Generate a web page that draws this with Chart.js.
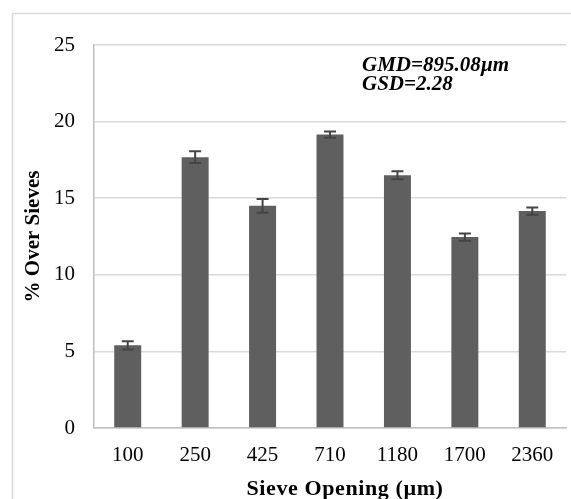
<!DOCTYPE html>
<html>
<head>
<meta charset="utf-8">
<script src="https://cdn.jsdelivr.net/npm/chart.js@4.4.1/dist/chart.umd.min.js"></script>
<style>
  html, body { margin: 0; padding: 0; background: #fff; }
  #wrap { position: relative; width: 571px; height: 499px; }
</style>
</head>
<body>
<div id="wrap"><canvas id="sieveChart" width="571" height="499"></canvas></div>
<script>
// ---- data ----
const sieveSizes = ['100', '250', '425', '710', '1180', '1700', '2360'];
const overSieve = [5.4, 17.68, 14.5, 19.15, 16.5, 12.46, 14.16];
const overSieveErr = [0.27, 0.38, 0.45, 0.2, 0.26, 0.24, 0.24];
const yTicks = [0, 5, 10, 15, 20, 25];
const statLines = ['GMD=895.08\u00b5m', 'GSD=2.28'];

const SERIF = '"Liberation Serif", "DejaVu Serif", serif';

// outer frame + axis title + GMD/GSD note
const decorPlugin = {
    id: 'decor',
    beforeDraw(chart) {
        const ctx = chart.ctx;
        ctx.save();
        ctx.strokeStyle = '#d9d9d9';
        ctx.lineWidth = 1.5;
        ctx.strokeRect(12.5, 13.5, 600, 600);
        ctx.restore();
    },
    afterDraw(chart) {
        const ctx = chart.ctx;
        ctx.save();
        ctx.fillStyle = '#000';
        ctx.textBaseline = 'alphabetic';
        ctx.textAlign = 'left';
        ctx.font = 'italic bold 21px ' + SERIF;
        ctx.fillText(statLines[0], 362, 70.5);
        ctx.fillText(statLines[1], 362, 89.5);

        ctx.textAlign = 'center';
        ctx.font = 'bold 22px ' + SERIF;
        ctx.letterSpacing = '0.6px';
        ctx.fillText('Sieve Opening (\u00b5m)', 345, 495);
        ctx.restore();
    }
};

// error bars drawn through the y scale
const errorBarPlugin = {
    id: 'errorBars',
    afterDatasetsDraw(chart) {
        const ctx = chart.ctx;
        const meta = chart.getDatasetMeta(0);
        const y = chart.scales.y;
        ctx.save();
        ctx.strokeStyle = '#444';
        ctx.lineWidth = 2;
        meta.data.forEach((bar, i) => {
            const v = overSieve[i], e = overSieveErr[i];
            const top = y.getPixelForValue(v + e);
            const bot = y.getPixelForValue(v - e);
            ctx.beginPath();
            ctx.moveTo(bar.x, top);
            ctx.lineTo(bar.x, bot);
            ctx.moveTo(bar.x - 6, top);
            ctx.lineTo(bar.x + 6, top);
            ctx.moveTo(bar.x - 6, bot);
            ctx.lineTo(bar.x + 6, bot);
            ctx.stroke();
        });
        ctx.restore();
    }
};

new Chart(document.getElementById('sieveChart'), {
    type: 'bar',
    data: {
        labels: sieveSizes,
        datasets: [{
            data: overSieve,
            backgroundColor: '#5f5f5f',
            categoryPercentage: 0.8,
            barPercentage: 0.5
        }]
    },
    options: {
        responsive: false,
        devicePixelRatio: 1,
        animation: false,
        layout: { padding: { top: 45, right: 5, left: 0, bottom: 0 } },
        plugins: { legend: { display: false }, tooltip: { enabled: false } },
        scales: {
            x: {
                afterFit: s => { s.height = 71; },
                grid: { display: false, drawTicks: false },
                border: { color: '#bfbfbf', width: 1.5 },
                ticks: { color: '#000', font: { family: SERIF, size: 21 }, padding: 15, maxRotation: 0 }
            },
            y: {
                min: 0,
                max: 25,
                afterFit: s => { s.width = 94; },
                afterBuildTicks: s => { s.ticks = yTicks.map(v => ({ value: v })); },
                grid: { color: '#d9d9d9', lineWidth: 1.5, drawTicks: false },
                border: { color: '#bfbfbf', width: 1.5 },
                ticks: { color: '#000', font: { family: SERIF, size: 21 }, padding: 19 },
                title: {
                    display: true,
                    text: '% Over Sieves',
                    color: '#000',
                    font: { family: SERIF, size: 21, weight: 'bold' },
                    padding: { top: 20.5, bottom: 0 }
                }
            }
        }
    },
    plugins: [decorPlugin, errorBarPlugin]
});
</script>
</body>
</html>
